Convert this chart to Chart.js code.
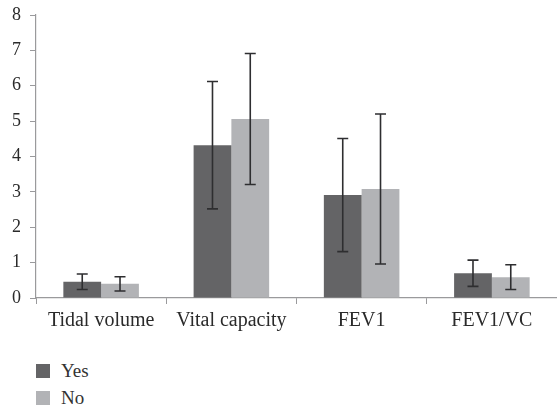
<!DOCTYPE html>
<html>
<head>
<meta charset="utf-8">
<script src="https://cdn.jsdelivr.net/npm/chart.js@4/dist/chart.umd.min.js"></script>
<style>
	body { margin: 0; background: #fff; }
	#wrap { position: relative; width: 557px; height: 408px; }
	#box { position: absolute; left: 0; top: 0; width: 557px; height: 344px; }
	#legend { position: absolute; left: 36px; top: 361px;
		font-family: "Liberation Serif", serif; font-size: 19px; color: #333; }
	#legend div { height: 27px; line-height: 20px; }
	#legend span { display: inline-block; width: 14px; height: 14px;
		margin-right: 11px; vertical-align: -1px; }
</style>
</head>
<body>
<div id="wrap">
	<div id="box"><canvas id="chart"></canvas></div>
	<div id="legend"></div>
</div>
<script>
/* Categories and the two groups. */

const categories = ['Tidal volume', 'Vital capacity', 'FEV1', 'FEV1/VC'];
const yesValues = [0.46, 4.32, 2.91, 0.70];
const yesErrors = [0.22, 1.80, 1.60, 0.37];
const noValues = [0.40, 5.06, 3.08, 0.59];
const noErrors = [0.20, 1.85, 2.12, 0.35];
const yTicks = [0, 1, 2, 3, 4, 5, 6, 7, 8];

const colours = ['#646466', '#b2b3b6'];
const labels = ['Yes', 'No'];
const errors = [yesErrors, noErrors];

/**
 * Draw the error bars (a vertical whisker with caps) on top of each bar,
 * using the value scale to place them.
 */
const errorBars = {
	id: 'errorBars',
	afterDatasetsDraw(chart) {
		const ctx = chart.ctx;
		const y = chart.scales.y;
		ctx.save();
		ctx.strokeStyle = '#2e2e30';
		ctx.lineWidth = 1.6;
		chart.data.datasets.forEach((ds, di) => {
			const meta = chart.getDatasetMeta(di);
			meta.data.forEach((bar, i) => {
				const v = ds.data[i];
				const e = errors[di][i];
				const top = y.getPixelForValue(v + e);
				const bot = y.getPixelForValue(v - e);
				ctx.beginPath();
				ctx.moveTo(bar.x, top);
				ctx.lineTo(bar.x, bot);
				ctx.moveTo(bar.x - 5.5, top);
				ctx.lineTo(bar.x + 5.5, top);
				ctx.moveTo(bar.x - 5.5, bot);
				ctx.lineTo(bar.x + 5.5, bot);
				ctx.stroke();
			});
		});
		ctx.restore();
	}
};

window.addEventListener('load', () => {
	new Chart(document.getElementById('chart'), {
		type: 'bar',
		data: {
			labels: categories,
			datasets: [{
				label: labels[0],
				data: yesValues,
				backgroundColor: colours[0],
			}, {
				label: labels[1],
				data: noValues,
				backgroundColor: colours[1],
			}]
		},
		plugins: [errorBars],
		options: {
			responsive: true,
			maintainAspectRatio: false,
			animation: false,
			categoryPercentage: 0.58,
			barPercentage: 1.0,
			layout: {
				padding: { top: 15, right: 0, left: 0, bottom: 0 },
			},
			plugins: {
				legend: { display: false },
				tooltip: { enabled: false },
			},
			scales: {
				x: {
					afterFit: (scale) => {
						scale.height = 46;
						scale.paddingLeft = 0;
						scale.paddingRight = 0;
					},
					border: { color: '#9a9a9c', width: 1.2 },
					grid: {
						drawOnChartArea: false,
						tickLength: 6,
						color: '#9a9a9c',
					},
					ticks: {
						color: '#2a2a2a',
						padding: 5,
						font: { family: 'Liberation Serif', size: 20 },
					},
				},
				y: {
					min: 0,
					max: 8,
					afterFit: (scale) => {
						scale.width = 36;
						scale.paddingTop = 0;
						scale.paddingBottom = 0;
					},
					afterBuildTicks: (scale) => {
						scale.ticks = yTicks.map(v => ({ value: v }));
					},
					border: { color: '#9a9a9c', width: 1.2 },
					grid: {
						drawOnChartArea: false,
						tickLength: 6,
						color: '#9a9a9c',
					},
					ticks: {
						color: '#2a2a2a',
						padding: 9,
						font: { family: 'Liberation Serif', size: 18 },
					},
				},
			}
		}
	});

	/* Vertical legend below the chart. */

	const items = labels.map((name, i) => {
		const row = document.createElement('div');
		const sw = document.createElement('span');
		sw.style.background = colours[i];
		row.append(sw, document.createTextNode(name));
		return row;
	});
	document.getElementById('legend').replaceChildren(...items);
});
</script>
</body>
</html>
